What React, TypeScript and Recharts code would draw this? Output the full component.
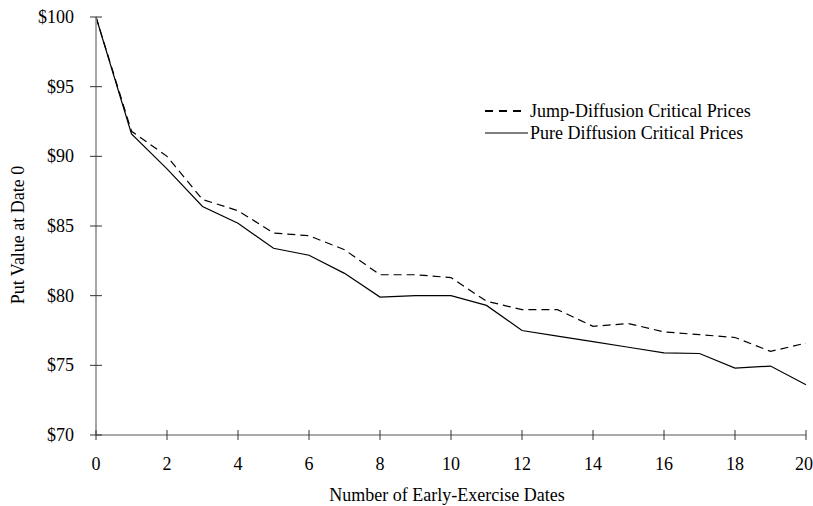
import React from 'react';
import { LineChart, Line, XAxis, YAxis, Legend } from 'recharts';

const dates = [0, 1, 2, 3, 4, 5, 6, 7, 8, 9, 10, 11, 12, 13, 14, 15, 16, 17, 18, 19, 20];
const jumpPrices = [100, 91.8, 90.0, 86.9, 86.1, 84.5, 84.3, 83.3, 81.5, 81.5, 81.3, 79.6, 79.0, 79.0, 77.8, 78.0, 77.4, 77.2, 77.0, 76.0, 76.6];
const purePrices = [100, 91.6, 89.1, 86.4, 85.2, 83.4, 82.9, 81.6, 79.9, 80.0, 80.0, 79.3, 77.5, 77.1, 76.7, 76.3, 75.9, 75.85, 74.8, 74.95, 73.6];
const xTicks = [0, 2, 4, 6, 8, 10, 12, 14, 16, 18, 20];
const yTicks = [70, 75, 80, 85, 90, 95, 100];

const data = dates.map((d, i) => ({ date: d, jump: jumpPrices[i], pure: purePrices[i] }));

const font = '"Liberation Serif", "Times New Roman", serif';

const YTick = (props: any) => {
  const { x, y, payload } = props;
  return (
    <g>
      <line x1={x - 6} x2={x + 6} y1={y} y2={y} stroke="#333" />
      <text x={x - 22} y={y + 6} textAnchor="end" fontSize={18} fontFamily={font} fill="#000">
        ${payload.value}
      </text>
    </g>
  );
};

const XTick = (props: any) => {
  const { x, y, payload } = props;
  // last label sits at the right edge, keep it inside the picture
  const last = payload.value === xTicks[xTicks.length - 1];
  return (
    <g>
      <line x1={x} x2={x} y1={y - 5} y2={y + 5} stroke="#333" />
      <text x={last ? x + 7 : x} y={y + 35} textAnchor={last ? 'end' : 'middle'} fontSize={18} fontFamily={font} fill="#000">
        {payload.value}
      </text>
    </g>
  );
};

const YLabel = (props: any) => {
  const { viewBox } = props;
  const cy = viewBox.y + viewBox.height / 2 + 9;
  return (
    <text x={18} y={cy} transform={`rotate(-90, 18, ${cy})`} textAnchor="middle" dominantBaseline="central" fontSize={18} fontFamily={font} fill="#000">
      Put Value at Date 0
    </text>
  );
};

const LegendBox = () => (
  <div style={{ fontFamily: font, fontSize: 18, color: '#000', lineHeight: '22px' }}>
    <div style={{ display: 'flex', alignItems: 'center' }}>
      <svg width={45} height={10}>
        <line x1={0} x2={37} y1={5} y2={5} stroke="#000" strokeWidth={2} strokeDasharray="8 6" />
      </svg>
      <span>Jump-Diffusion Critical Prices</span>
    </div>
    <div style={{ display: 'flex', alignItems: 'center' }}>
      <svg width={45} height={10}>
        <line x1={0} x2={43} y1={5} y2={5} stroke="#000" strokeWidth={1.2} />
      </svg>
      <span>Pure Diffusion Critical Prices</span>
    </div>
  </div>
);

export default function App() {
  return (
    <div style={{ position: 'absolute', left: 0, top: 0, width: 813, height: 506, background: '#fff' }}>
      <LineChart width={813} height={506} data={data} margin={{ top: 17, right: 7, left: 0, bottom: 21 }}>
        <XAxis
          dataKey="date"
          type="number"
          domain={[0, 20]}
          ticks={xTicks}
          tickLine={false}
          tickSize={0}
          tickMargin={0}
          tick={<XTick />}
          height={50}
          stroke="#555"
          interval={0}
          label={{ value: 'Number of Early-Exercise Dates', position: 'insideBottom', offset: -16, fontSize: 18, fontFamily: font, fill: '#000', dx: -4 }}
        />
        <YAxis
          type="number"
          domain={[70, 100]}
          ticks={yTicks}
          tickLine={false}
          tickSize={0}
          tickMargin={0}
          tick={<YTick />}
          width={96}
          stroke="#888"
          strokeWidth={1.5}
          interval={0}
          label={<YLabel />}
        />
        <Legend
          layout="vertical"
          verticalAlign="middle"
          align="center"
          content={<LegendBox />}
          wrapperStyle={{ position: 'absolute', left: 485, top: 100, width: 320 }}
        />
        <Line type="linear" dataKey="jump" stroke="#000" strokeWidth={1.2} strokeDasharray="8 5" dot={false} isAnimationActive={false} />
        <Line type="linear" dataKey="pure" stroke="#000" strokeWidth={1.2} dot={false} isAnimationActive={false} />
      </LineChart>
    </div>
  );
}
